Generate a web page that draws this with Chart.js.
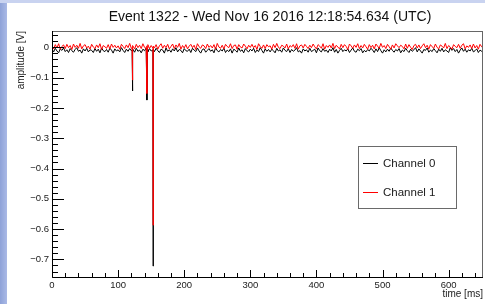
<!DOCTYPE html>
<html lang="en">
<head>
<meta charset="UTF-8">
<title>Event 1322</title>
<script src="https://cdn.jsdelivr.net/npm/chart.js"></script>
<style>
  html, body { margin: 0; padding: 0; background: #fff; }
  #wrap { position: relative; width: 485px; height: 304px; }
</style>
</head>
<body>
<div id="wrap"><canvas id="scope" width="485" height="304"></canvas></div>
<script>
// sample times (ms), shared by both channels
const timeMs = [
  0, 2.5, 5, 7.5, 10, 12.5, 15, 17.5, 20, 22.5, 25, 27.5, 30, 32.5, 35, 37.5, 40, 42.5, 45, 47.5,
  50, 52.5, 55, 57.5, 60, 62.5, 65, 67.5, 70, 72.5, 75, 77.5, 80, 82.5, 85, 87.5, 90, 92.5, 95, 97.5,
  100, 102.5, 105, 107.5, 110, 112.5, 115, 117.5, 120,
  121.2, 121.5, 121.8,
  122.5, 125, 127.5, 130, 132.5, 135, 137.5, 140, 142.5,
  143.4, 143.7, 144,
  145, 147.5, 150,
  152.7, 153, 153.3,
  155, 157.5, 160, 162.5, 165, 167.5, 170, 172.5, 175, 177.5,
  180, 182.5, 185, 187.5, 190, 192.5, 195, 197.5, 200, 202.5,
  205, 207.5, 210, 212.5, 215, 217.5, 220, 222.5, 225, 227.5,
  230, 232.5, 235, 237.5, 240, 242.5, 245, 247.5, 250, 252.5,
  255, 257.5, 260, 262.5, 265, 267.5, 270, 272.5, 275, 277.5,
  280, 282.5, 285, 287.5, 290, 292.5, 295, 297.5, 300, 302.5,
  305, 307.5, 310, 312.5, 315, 317.5, 320, 322.5, 325, 327.5,
  330, 332.5, 335, 337.5, 340, 342.5, 345, 347.5, 350, 352.5,
  355, 357.5, 360, 362.5, 365, 367.5, 370, 372.5, 375, 377.5,
  380, 382.5, 385, 387.5, 390, 392.5, 395, 397.5, 400, 402.5,
  405, 407.5, 410, 412.5, 415, 417.5, 420, 422.5, 425, 427.5,
  430, 432.5, 435, 437.5, 440, 442.5, 445, 447.5, 450, 452.5,
  455, 457.5, 460, 462.5, 465, 467.5, 470, 472.5, 475, 477.5,
  480, 482.5, 485, 487.5, 490, 492.5, 495, 497.5, 500, 502.5,
  505, 507.5, 510, 512.5, 515, 517.5, 520, 522.5, 525, 527.5,
  530, 532.5, 535, 537.5, 540, 542.5, 545, 547.5, 550, 552.5,
  555, 557.5, 560, 562.5, 565, 567.5, 570, 572.5, 575, 577.5,
  580, 582.5, 585, 587.5, 590, 592.5, 595, 597.5, 600, 602.5,
  605, 607.5, 610, 612.5, 615, 617.5, 620, 622.5, 625, 627.5,
  630, 632.5, 635, 637.5, 640, 642.5, 645, 647.5, 650, 652.5
];

// amplitude in mV
const channel0_mV = [
  -6, -15, -3, -12, -18, -5, -10, -2, -14, -8, -17, -4, -11, -16, -7, -1, -13, -9, -19, -5, -12, -3, -15, -8, -10,
  -17, -4, -13, -6, -18, -2, -11, -14, -7, -16, -3, -9, -19, -5, -12, -8, -15, -1, -10, -17, -6, -13, -4, -11,
  -8, -144, -12,
  -5, -16, -3, -13, -9, -18, -6, -11, -2,
  -10, -174, -7,
  -15, -4, -12,
  -9, -722, -6,
  -14, -3, -11, -17, -6, -9, -19, -2, -13, -8,
  -16, -5, -12, -1, -15, -7, -10, -18, -4, -11,
  -13, -6, -17, -3, -9, -14, -2, -12, -19, -7,
  -5, -16, -10, -4, -13, -8, -18, -1, -11, -15,
  -7, -12, -3, -17, -9, -14, -5, -19, -6, -10,
  -16, -2, -13, -8, -18, -4, -11, -15, -6, -12,
  -3, -17, -9, -14, -1, -10, -19, -5, -13, -7,
  -15, -6, -11, -18, -3, -12, -8, -16, -2, -10,
  -14, -4, -17, -7, -13, -9, -1, -15, -11, -19,
  -5, -12, -8, -16, -3, -14, -10, -6, -18, -2,
  -11, -15, -4, -13, -9, -17, -6, -12, -1, -16,
  -7, -19, -10, -3, -14, -8, -12, -5, -17, -9,
  -2, -13, -16, -6, -11, -4, -18, -10, -15, -7,
  -12, -3, -9, -17, -5, -14, -1, -11, -19, -8,
  -15, -6, -13, -2, -10, -16, -7, -12, -4, -18,
  -9, -14, -3, -11, -17, -6, -13, -8, -1, -15,
  -5, -12, -19, -7, -10, -2, -16, -9, -14, -4,
  -11, -18, -6, -13, -3, -15, -8, -12, -17, -1,
  -10, -4, -14, -7, -19, -9, -2, -13, -6, -16,
  -8, -12, -3, -15, -11, -5, -17, -9, -13, -7
];

const channel1_mV = [
  4, -5, 9, -2, 12, -6, 3, 8, -4, 10, -1, 6, -7, 11, 0, 7, -3, 13, -5, 5, 9, -2, 4, -6, 10,
  1, -4, 8, -1, 12, -7, 6, 2, -3, 9, -5, 11, 0, 7, -2, 5, -6, 10, 3, -4, 8, -1, 13, -3,
  -2, -108, 3,
  6, -5, 10, -1, 7, -4, 12, 0, -3,
  5, -152, -2,
  9, -4, 6,
  -3, -587, 4,
  -2, 9, -6, 5, 12, -3, 7, -1, 10, -5,
  3, 11, -4, 8, 0, 13, -6, 6, -2, 9,
  -5, 4, 10, -1, 7, -7, 12, 2, -3, 8,
  5, -4, 11, 0, 6, -2, 9, -6, 13, 1,
  -3, 7, -5, 10, 3, -1, 12, -4, 6, 8,
  -6, 9, 1, -2, 11, 4, -5, 7, 0, 10,
  -1, 6, -7, 12, 3, -3, 8, -4, 9, 2,
  5, -6, 10, -1, 13, 0, -4, 7, 4, -2,
  11, -5, 6, 1, 9, -3, 12, -6, 5, 8,
  -2, 10, 3, -4, 7, -1, 11, 2, -5, 9,
  4, -3, 12, -6, 6, 0, 8, -2, 13, -4,
  7, 1, -5, 10, -1, 9, 3, -7, 11, 5,
  -3, 8, 0, 12, -4, 6, -2, 10, 2, -6,
  9, -1, 7, -5, 11, 4, -3, 13, 0, 6,
  -4, 10, 2, -6, 8, -2, 12, 5, -1, 7,
  3, -5, 11, -3, 9, 0, -7, 6, 10, -2,
  8, -4, 5, 12, -1, 7, -6, 9, 2, -3,
  11, 0, -5, 8, 4, -2, 13, -4, 6, 1,
  -6, 9, 3, -1, 10, -3, 7, 12, -5, 5,
  0, 8, -4, 11, -2, 6, -6, 10, 2, 4
];

const seriesNames = ['Channel 0', 'Channel 1'];
const seriesColors = ['#000000', '#ff0000'];
const xTickLabels = [0, 100, 200, 300, 400, 500, 600];
const yTickLabels = [0, -0.1, -0.2, -0.3, -0.4, -0.5, -0.6, -0.7];
const chartTitle = 'Event 1322 - Wed Nov 16 2016 12:18:54.634 (UTC)';

const FONT = "'Liberation Sans', Arial, Helvetica, sans-serif";
Chart.defaults.font.family = FONT;
Chart.defaults.color = '#1a1a1a';

// slide background strip + white panel + title
const backdrop = {
  id: 'backdrop',
  beforeDraw(chart) {
    const c = chart.ctx;
    c.save();
    const g = c.createLinearGradient(0, 0, 8, 0);
    g.addColorStop(0, '#8ea2d8');
    g.addColorStop(1, '#aebde8');
    c.fillStyle = g;
    c.fillRect(0, 0, chart.width, chart.height);
    c.fillStyle = '#c9d3f0';
    c.fillRect(0, 0, chart.width, 3);
    c.fillStyle = '#ffffff';
    c.fillRect(7, 3, chart.width - 7, chart.height - 3);
    c.fillStyle = '#111';
    c.font = '14px ' + FONT;
    c.textAlign = 'center';
    c.textBaseline = 'middle';
    c.fillText(chartTitle, 270, 17);
    c.restore();
  }
};

// ROOT style frame, inward ticks and legend box
const rootFrame = {
  id: 'rootFrame',
  afterDraw(chart) {
    const c = chart.ctx;
    const a = chart.chartArea;
    const xs = chart.scales.x, ys = chart.scales.y;
    c.save();
    c.lineWidth = 1;
    c.strokeStyle = '#666';
    c.strokeRect(a.left + 0.5, a.top + 0.5, a.right - a.left - 1, a.bottom - a.top);
    c.strokeStyle = '#000';
    c.beginPath();
    c.moveTo(a.left + 0.5, a.top);
    c.lineTo(a.left + 0.5, a.bottom + 0.5);
    c.lineTo(a.right, a.bottom + 0.5);
    c.stroke();

    c.beginPath();
    for (let k = Math.ceil(ys.min / 0.02); k <= Math.floor(ys.max / 0.02); k++) {
      const y = Math.round(ys.getPixelForValue(k * 0.02)) + 0.5;
      const len = k % 5 === 0 ? 12 : 6;
      c.moveTo(a.left, y);
      c.lineTo(a.left + len, y);
    }
    for (let k = Math.ceil(xs.min / 20); k <= Math.floor(xs.max / 20); k++) {
      const x = Math.round(xs.getPixelForValue(k * 20)) + 0.5;
      const len = k % 5 === 0 ? 7 : 4;
      c.moveTo(x, a.bottom);
      c.lineTo(x, a.bottom - len);
    }
    c.stroke();

    // legend
    const bx = 358, by = 146, bw = 98, bh = 62;
    c.fillStyle = '#fff';
    c.fillRect(bx, by, bw, bh);
    c.strokeStyle = '#6a6a6a';
    c.strokeRect(bx + 0.5, by + 0.5, bw, bh);
    c.font = '11.5px ' + FONT;
    c.textBaseline = 'middle';
    c.textAlign = 'left';
    chart.data.datasets.forEach((ds, i) => {
      const y = by + 17 + i * 29;
      c.strokeStyle = ds.borderColor;
      c.beginPath();
      c.moveTo(bx + 5, y + 0.5);
      c.lineTo(bx + 20, y + 0.5);
      c.stroke();
      c.fillStyle = '#1a1a1a';
      c.fillText(ds.label, bx + 25, y + 1);
    });
    c.restore();
  }
};

const fmt = v => {
  const r = Math.round(v * 10) / 10;
  if (r === 0) return '0';
  return (r < 0 ? '\u2212' : '') + Math.abs(r).toString();
};

const toPoints = mV => timeMs.map((t, i) => ({ x: t, y: mV[i] / 1000 }));

new Chart(document.getElementById('scope'), {
  type: 'line',
  data: {
    datasets: [
      {
        label: seriesNames[0],
        data: toPoints(channel0_mV),
        borderColor: seriesColors[0],
        borderWidth: 1,
        pointRadius: 0,
        tension: 0,
        order: 1
      },
      {
        label: seriesNames[1],
        data: toPoints(channel1_mV),
        borderColor: seriesColors[1],
        borderWidth: 1,
        pointRadius: 0,
        tension: 0,
        order: 0
      }
    ]
  },
  options: {
    responsive: false,
    animation: false,
    events: [],
    layout: { padding: { left: 0, right: 2, top: 31, bottom: 0 } },
    plugins: {
      legend: { display: false },
      tooltip: { enabled: false },
      title: { display: false }
    },
    scales: {
      x: {
        type: 'linear',
        min: 0,
        max: 652,
        afterFit: s => { s.height = 27; },
        afterBuildTicks: s => { s.ticks = xTickLabels.map(v => ({ value: v })); },
        grid: { display: false, drawTicks: false },
        border: { display: false },
        ticks: {
          padding: 3,
          maxRotation: 0,
          autoSkip: false,
          font: { size: 9.5 },
          color: '#1a1a1a'
        },
        title: {
          display: true,
          text: 'time [ms]',
          align: 'end',
          font: { size: 10 },
          color: '#1a1a1a',
          padding: { top: 0, bottom: 4 }
        }
      },
      y: {
        type: 'linear',
        min: -0.758,
        max: 0.054,
        afterFit: s => { s.width = 52; },
        afterBuildTicks: s => { s.ticks = yTickLabels.map(v => ({ value: v })); },
        grid: { display: false, drawTicks: false },
        border: { display: false },
        ticks: {
          padding: 3,
          autoSkip: false,
          font: { size: 9.5 },
          color: '#1a1a1a',
          callback: v => fmt(v)
        },
        title: {
          display: true,
          text: 'amplitude [V]',
          align: 'end',
          font: { size: 10 },
          color: '#1a1a1a',
          padding: { top: 15, bottom: 0 }
        }
      }
    }
  },
  plugins: [backdrop, rootFrame]
});
</script>
</body>
</html>
